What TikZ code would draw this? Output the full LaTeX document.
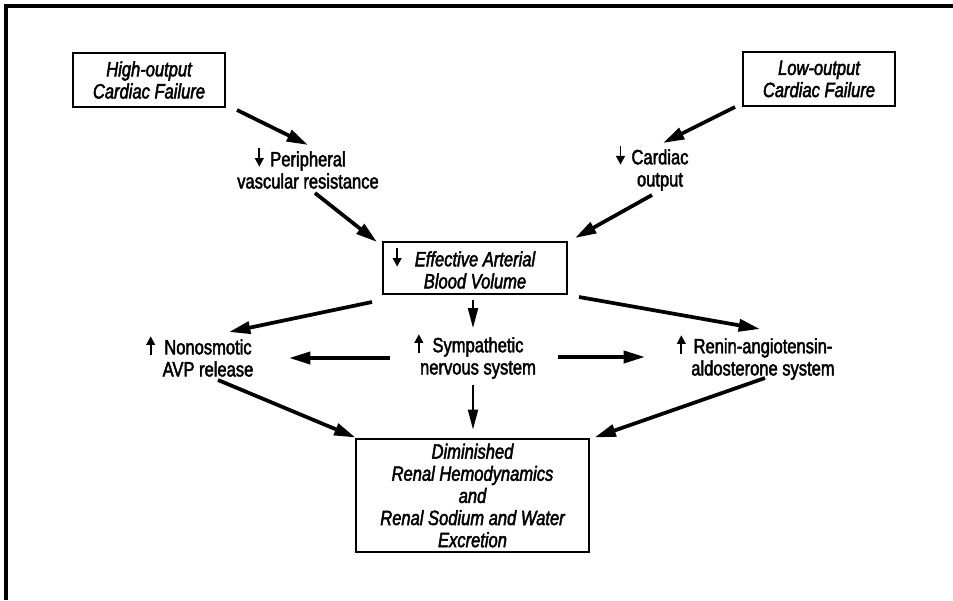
\documentclass[tikz,border=0pt]{standalone}
\usepackage{fontspec}
\setmainfont{Liberation Sans}[FakeStretch=0.8,FakeBold=2.2]
\usetikzlibrary{arrows.meta,calc}
\newcommand\dfont{\fontsize{15.5pt}{16.6pt}\selectfont}
\newcommand\arrl[2][4.5pt]{\leavevmode\llap{#2\hspace{#1}}}
\newcommand\dnarr{\tikz[baseline=0pt]\draw[line width=1.4pt,-{Triangle[length=6.5pt,width=6.5pt]}] (0,13.5pt) -- (0,-0.3pt);}
\newcommand\uparr{\tikz[baseline=0pt]\draw[line width=1.4pt,-{Triangle[length=6.5pt,width=6.5pt]}] (0,-0.3pt) -- (0,13.5pt);}
\begin{document}
\begin{tikzpicture}[x=0.75pt,y=-0.75pt,
  box/.style={draw,line width=1.3pt,inner sep=0pt,align=center,font=\dfont\itshape},
  lbl/.style={inner sep=0pt,align=center,font=\dfont},
  arr/.style={line width=2.8pt,-{Triangle[length=16pt,width=9pt]}},
  thinarr/.style={line width=1.6pt,-{Triangle[length=15pt,width=7.5pt]}}]
\useasboundingbox (0,0) rectangle (953,600);
\draw[line width=2.3pt] (6,600) -- (6,6) -- (953,6);

\node[box,minimum width=114pt,minimum height=40.5pt] (high) at (149,80) {High-output\\Cardiac Failure};
\node[box,minimum width=114pt,minimum height=40.5pt] (low) at (819,79) {Low-output\\Cardiac Failure};
\node[lbl] (periph) at (308,168) {\arrl[5pt]{\dnarr}Peripheral\\vascular resistance};
\node[lbl] (cardiac) at (660,168) {\arrl[5pt]{\dnarr}Cardiac\\output};
\node[box,minimum width=138pt,minimum height=39pt] (eff) at (475,268) {\arrl[10pt]{\dnarr}Effective Arterial\\Blood Volume};
\node[lbl] (avp) at (208,356) {\arrl[7pt]{\uparr}Nonosmotic\\AVP release};
\node[lbl] (symp) at (478,356) {\arrl[7pt]{\uparr}Sympathetic\\nervous system};
\node[lbl] (renin) at (763,357) {\arrl[6pt]{\uparr}Renin-angiotensin-\\aldosterone system};
\node[box,minimum width=174.75pt,minimum height=84.75pt] (dim) at (472.5,495.5) {Diminished\\Renal Hemodynamics\\and\\Renal Sodium and Water\\Excretion};

\draw[arr] ($(high)+(88,30)$) -- ($(periph)+(0,-23)$);
\draw[arr] ($(periph)+(7,25)$) -- ($(eff)+(-98,-26)$);
\draw[arr] ($(low)+(-84,28)$) -- ($(cardiac)+(3,-25)$);
\draw[arr] ($(cardiac)+(-8,27)$) -- ($(eff)+(100,-30)$);
\draw[arr] ($(eff)+(-103,34)$) -- ($(avp)+(21,-24)$);
\draw[thinarr] ($(eff)+(-2,32)$) -- ($(symp)+(-5,-28)$);
\draw[arr] ($(eff)+(104,29)$) -- ($(renin)+(-3,-28)$);
\draw[arr] ($(symp)+(-88,2)$) -- ($(avp)+(81,2)$);
\draw[arr] ($(symp)+(80,1)$) -- ($(renin)+(-118,0)$);
\draw[thinarr] ($(symp)+(-5,29)$) -- ($(dim)+(0.5,-66)$);
\draw[arr] ($(avp)+(10,24)$) -- ($(dim)+(-117,-58)$);
\draw[arr] ($(renin)+(2,21)$) -- ($(dim)+(122,-58)$);
\end{tikzpicture}
\end{document}
